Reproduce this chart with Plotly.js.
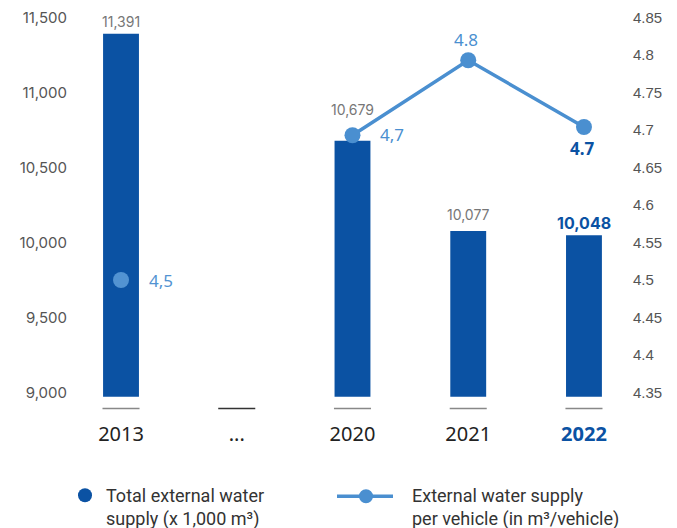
<!DOCTYPE html>
<html><head><meta charset="utf-8">
<script src="https://cdn.plot.ly/plotly-3.0.1.min.js"></script>
<style>body{margin:0;background:#fff}</style>
</head><body><div id="chart" style="width:677px;height:528px"></div>
<script>
const categories = ['2013', '...', '2020', '2021', '2022'];
const tickLabels = ['2013', '...', '2020', '2021', "<b><span style='color:#0b52a3'>2022</span></b>"];
const waterTotal = [11391, null, 10679, 10077, 10048];
const waterTotalLabels = ['11,391', '', '10,679', '10,077', '10,048'];
const perVehicleYears = ['2020', '2021', '2022'];
const perVehicle = [4.693, 4.793, 4.704];
const perVehicleLabels = ['4,7', '4.8', '4.7'];
const perVehicle2013Year = ['2013'];
const perVehicle2013 = [4.5];
const perVehicle2013Label = ['4,5'];
const leftTicks = [9000, 9500, 10000, 10500, 11000, 11500];
const leftTickText = ['9,000', '9,500', '10,000', '10,500', '11,000', '11,500'];
const rightTicks = [4.35, 4.4, 4.45, 4.5, 4.55, 4.6, 4.65, 4.7, 4.75, 4.8, 4.85];
const legendNames = ['Total external water<br>supply (x 1,000 m³)', 'External water supply<br>per vehicle (in m³/vehicle)'];

const barBlue = '#0b52a3';
const lineBlue = '#4a8fd0';
const BASE = 8972;

const traces = [
  {
    type: 'bar', x: categories, y: waterTotal.map(v => v == null ? null : v - BASE), base: BASE,
    width: 0.31, marker: {color: barBlue}, hoverinfo: 'skip', showlegend: false
  },
  {
    type: 'scatter', mode: 'markers', x: perVehicle2013Year, y: perVehicle2013, yaxis: 'y2',
    marker: {color: '#5293d2', size: 16}, cliponaxis: false, showlegend: false
  },
  {
    type: 'scatter', mode: 'lines+markers', x: perVehicleYears, y: perVehicle, yaxis: 'y2',
    line: {color: lineBlue, width: 3.5}, marker: {color: lineBlue, size: 16},
    cliponaxis: false, showlegend: false
  }
];

const idx = c => categories.indexOf(c);

// bar value labels
const barShift = {'2013': 2, '2020': 21, '2021': 6, '2022': 0};
const annotations = [];
categories.forEach((c, i) => {
  if (waterTotal[i] == null) return;
  const isLast = i === categories.length - 1;
  annotations.push({
    x: i, y: waterTotal[i], xref: 'x', yref: 'y', yanchor: 'bottom', yshift: barShift[c],
    text: isLast ? '<b>' + waterTotalLabels[i] + '</b>' : waterTotalLabels[i], showarrow: false,
    font: {family: 'Inter, sans-serif', size: isLast ? 16 : 14, color: isLast ? barBlue : '#777'}
  });
});
// per-vehicle labels
const lineLabelStyle = [
  {xanchor: 'left', xshift: 26, yshift: 1, color: lineBlue, bold: false},
  {xanchor: 'center', xshift: -2, yshift: 21, color: lineBlue, bold: false},
  {xanchor: 'center', xshift: -1, yshift: -21, color: barBlue, bold: true}
];
perVehicleYears.forEach((c, i) => {
  const s = lineLabelStyle[i];
  annotations.push({
    x: idx(c), y: perVehicle[i], xref: 'x', yref: 'y2', xanchor: s.xanchor, yanchor: 'middle',
    xshift: s.xshift, yshift: s.yshift, showarrow: false,
    text: s.bold ? '<b>' + perVehicleLabels[i] + '</b>' : perVehicleLabels[i],
    font: {family: 'Noto Sans, sans-serif', size: 17, color: s.color}
  });
});
annotations.push({
  x: idx(perVehicle2013Year[0]), y: perVehicle2013[0], xref: 'x', yref: 'y2', xanchor: 'left', yanchor: 'middle',
  xshift: 26, showarrow: false, text: perVehicle2013Label[0],
  font: {family: 'Noto Sans, sans-serif', size: 17, color: '#5293d2'}
});

// custom legend (plot area: x 68..632 px, y 9.5..400.5 px)
const px = v => (v - 68) / 564;
const py = v => (400.5 - v) / 391;
annotations.push({
  xref: 'paper', yref: 'paper', x: px(104), y: py(508), xanchor: 'left', yanchor: 'middle', align: 'left',
  text: legendNames[0], showarrow: false, font: {family: 'Roboto, sans-serif', size: 18, color: '#333'}
});
annotations.push({
  xref: 'paper', yref: 'paper', x: px(410), y: py(508), xanchor: 'left', yanchor: 'middle', align: 'left',
  text: legendNames[1], showarrow: false, font: {family: 'Roboto, sans-serif', size: 18, color: '#333'}
});

const shapes = categories.map((c, i) => ({
  type: 'line', xref: 'x', yref: 'paper', x0: i - 0.16, x1: i + 0.16, y0: py(409), y1: py(409),
  line: {color: c === '...' ? '#333' : '#888', width: 1.3}
}));
shapes.push({
  type: 'circle', xref: 'paper', yref: 'paper', xsizemode: 'pixel', ysizemode: 'pixel',
  xanchor: px(85), yanchor: py(496), x0: -7, x1: 7, y0: -7, y1: 7,
  fillcolor: barBlue, line: {width: 0}
});
shapes.push({
  type: 'line', xref: 'paper', yref: 'paper', x0: px(337), x1: px(393), y0: py(497), y1: py(497),
  line: {color: lineBlue, width: 3.5}
});
shapes.push({
  type: 'circle', xref: 'paper', yref: 'paper', xsizemode: 'pixel', ysizemode: 'pixel',
  xanchor: px(366), yanchor: py(497), x0: -7, x1: 7, y0: -7, y1: 7,
  fillcolor: lineBlue, line: {width: 0}
});

const layout = {
  width: 677, height: 528,
  margin: {l: 68, r: 45, t: 9.5, b: 127.5},
  paper_bgcolor: '#fff', plot_bgcolor: '#fff',
  showlegend: false,
  xaxis: {
    type: 'category', categoryorder: 'array', categoryarray: categories,
    range: [-0.458, 4.415], tickvals: categories, ticktext: tickLabels,
    showgrid: false, zeroline: false, showline: false, ticks: '',
    ticklabelstandoff: 20,
    tickfont: {family: 'Noto Sans, sans-serif', size: 20, color: '#222'}
  },
  yaxis: {
    range: [8950, 11550], tickvals: leftTicks, ticktext: leftTickText,
    showgrid: false, zeroline: false, showline: false, ticks: '',
    tickfont: {family: 'Inter, sans-serif', size: 15, color: '#555'}
  },
  yaxis2: {
    overlaying: 'y', side: 'right', range: [4.34, 4.86], tickvals: rightTicks,
    showgrid: false, zeroline: false, showline: false, ticks: '',
    tickfont: {family: 'Liberation Sans, Arial, sans-serif', size: 15, color: '#555'}
  },
  annotations: annotations,
  shapes: shapes
};

Plotly.newPlot('chart', traces, layout, {displayModeBar: false, staticPlot: true});
</script></body></html>
